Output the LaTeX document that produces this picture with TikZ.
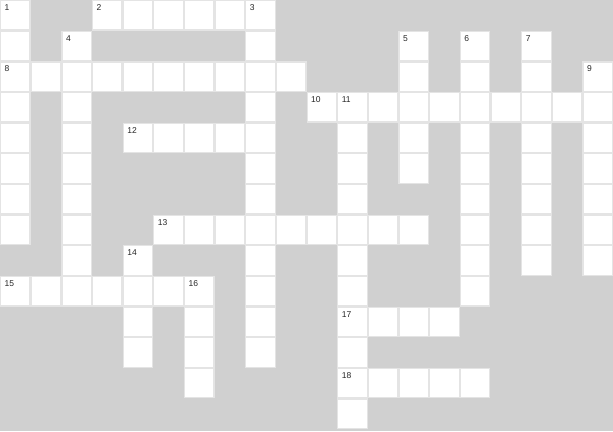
\documentclass[tikz,border=0pt]{standalone}
\usepackage{fontspec}
\setmainfont{Liberation Sans}
\definecolor{bg}{RGB}{208,208,208}
\definecolor{edge}{RGB}{228,228,228}
\tikzset{
  cell/.style={fill=white,draw=edge,line width=1.2pt},
  num/.style={anchor=north west,inner sep=0pt,font=\fontsize{8.5}{9}\selectfont,text=black!85}
}
\newcommand{\pw}{30.65}
\begin{document}
\begin{tikzpicture}[x=1pt,y=-1pt]
\fill[bg] (0,0) rectangle (613,431);
\useasboundingbox (0,0) rectangle (613,431);
% across words: col/row/length
\foreach \c/\r/\n in {3/0/6, 0/2/10, 10/3/10, 4/4/5, 5/7/9, 0/9/7, 11/10/4, 11/12/5}{
  \foreach \i in {1,...,\n}{
    \draw[cell] ({(\c+\i-1)*\pw+0.6},{\r*\pw+0.6}) rectangle ({(\c+\i)*\pw-0.6},{(\r+1)*\pw-0.6});
  }
}
% down words: col/row/length
\foreach \c/\r/\n in {0/0/8, 8/0/12, 2/1/9, 13/1/5, 15/1/9, 17/1/8, 19/2/7, 11/3/11, 4/8/4, 6/9/4}{
  \foreach \i in {1,...,\n}{
    \draw[cell] ({\c*\pw+0.6},{(\r+\i-1)*\pw+0.6}) rectangle ({(\c+1)*\pw-0.6},{(\r+\i)*\pw-0.6});
  }
}
% clue numbers
\foreach \k/\c/\r in {1/0/0, 2/3/0, 3/8/0, 4/2/1, 5/13/1, 6/15/1, 7/17/1, 8/0/2, 9/19/2, 10/10/3, 11/11/3, 12/4/4, 13/5/7, 14/4/8, 15/0/9, 16/6/9, 17/11/10, 18/11/12}{
  \node[num] (n\k) at ({\c*\pw+4.5},{\r*\pw+4.5}) {\k};
}
\end{tikzpicture}
\end{document}
